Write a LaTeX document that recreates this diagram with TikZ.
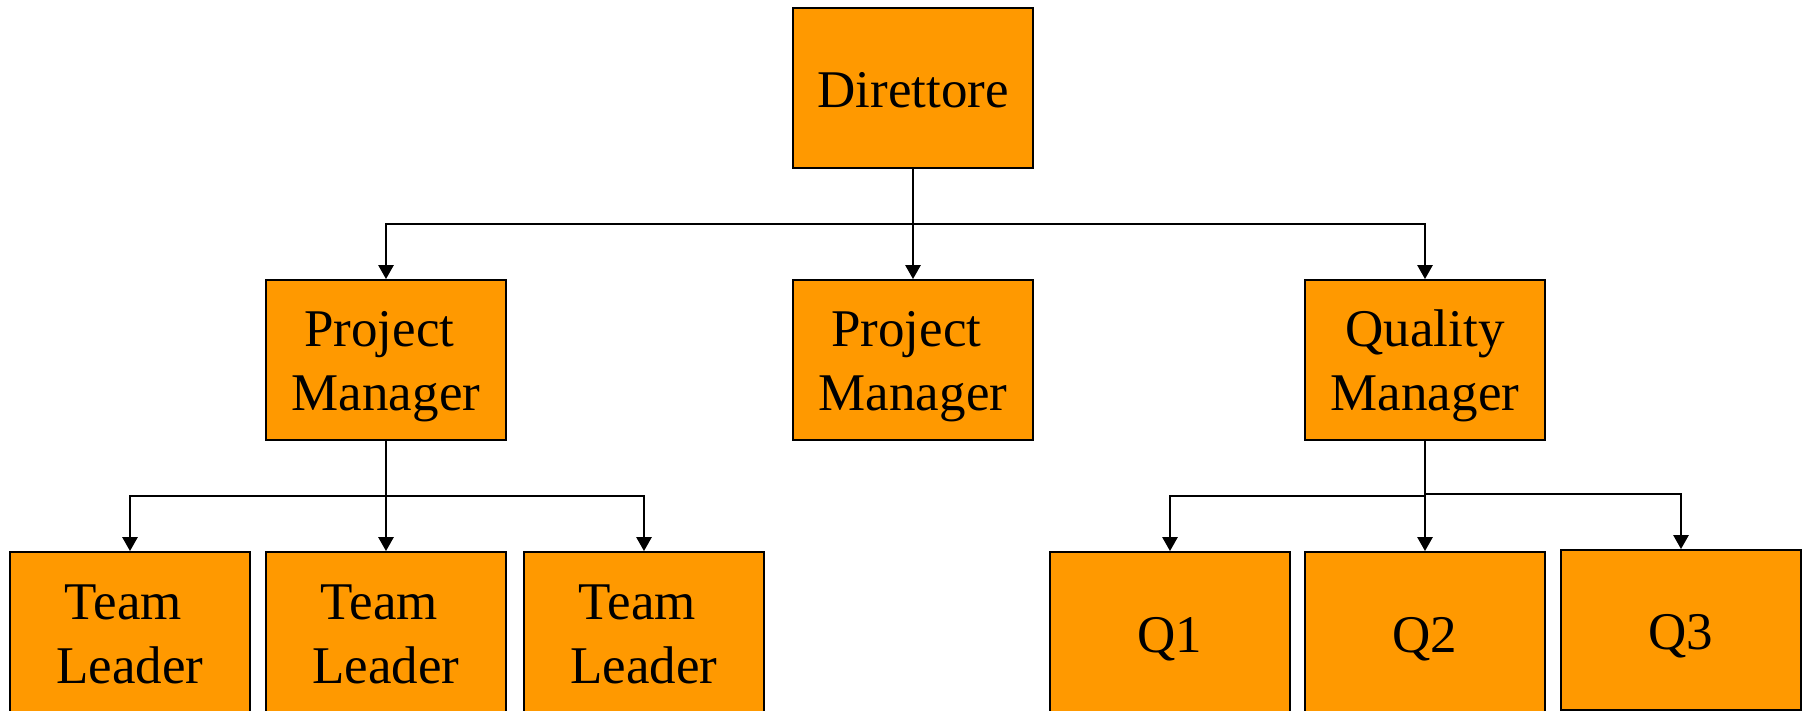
\documentclass[tikz,border=0pt]{standalone}
\usepackage{fontspec}
\setmainfont{Liberation Serif}
\usetikzlibrary{arrows.meta}
\definecolor{boxorange}{RGB}{255,153,0}
\newcommand{\tsp}{\rule{0.25em}{0pt}}
\begin{document}
\begin{tikzpicture}[x=1pt,y=-1pt,
  orgbox/.style={draw=black, line width=1.8pt, fill=boxorange, minimum width=240pt, minimum height=160pt, inner sep=0pt},
  lbl/.style={anchor=base, inner sep=0pt, align=center, font=\fontsize{53}{63.5}\selectfont},
  conn/.style={line width=2.6pt, line join=miter, -{Triangle[length=14pt,width=15pt]}}]
\useasboundingbox (0,0) rectangle (1808,710);
\node[orgbox] (dir) at (913,88) {};
\node[orgbox] (pm1) at (386,360) {};
\node[orgbox] (pm2) at (913,360) {};
\node[orgbox] (qm) at (1425,360) {};
\node[orgbox] (tl1) at (130,632) {};
\node[orgbox] (tl2) at (386,632) {};
\node[orgbox] (tl3) at (644,632) {};
\node[orgbox] (q1) at (1170,632) {};
\node[orgbox] (q2) at (1425,632) {};
\node[orgbox] (q3) at (1681,630) {};
% labels (base anchor = baseline of the last line)
\node[lbl] (tdir) at ([yshift=-100pt]dir.north) {Direttore};
\node[lbl] (tpm1) at ([yshift=-131pt]pm1.north) {Project\tsp\\Manager};
\node[lbl] (tpm2) at ([yshift=-131pt]pm2.north) {Project\tsp\\Manager};
\node[lbl] (tqm) at ([yshift=-131pt]qm.north) {Quality\\Manager};
\node[lbl] (ttl1) at ([yshift=-132pt]tl1.north) {Team\tsp\\Leader};
\node[lbl] (ttl2) at ([yshift=-132pt]tl2.north) {Team\tsp\\Leader};
\node[lbl] (ttl3) at ([yshift=-132pt]tl3.north) {Team\tsp\\Leader};
\node[lbl] (tq1) at ([yshift=-101pt]q1.north) {Q1};
\node[lbl] (tq2) at ([yshift=-101pt]q2.north) {Q2};
\node[lbl] (tq3) at ([yshift=-100pt]q3.north) {Q3};
\coordinate (b1) at (913,224);
\coordinate (b2) at (386,496);
\coordinate (b3) at (1425,496);
\coordinate (b4) at (1425,494);
% top level
\draw[conn] (dir.south) -- (pm2.north);
\draw[conn] (b1) -| (pm1.north);
\draw[conn] (b1) -| (qm.north);
% project manager branch
\draw[conn] (pm1.south) -- (tl2.north);
\draw[conn] (b2) -| (tl1.north);
\draw[conn] (b2) -| (tl3.north);
% quality branch
\draw[conn] (qm.south) -- (q2.north);
\draw[conn] (b3) -| (q1.north);
\draw[conn] (b4) -| (q3.north);
\end{tikzpicture}
\end{document}
